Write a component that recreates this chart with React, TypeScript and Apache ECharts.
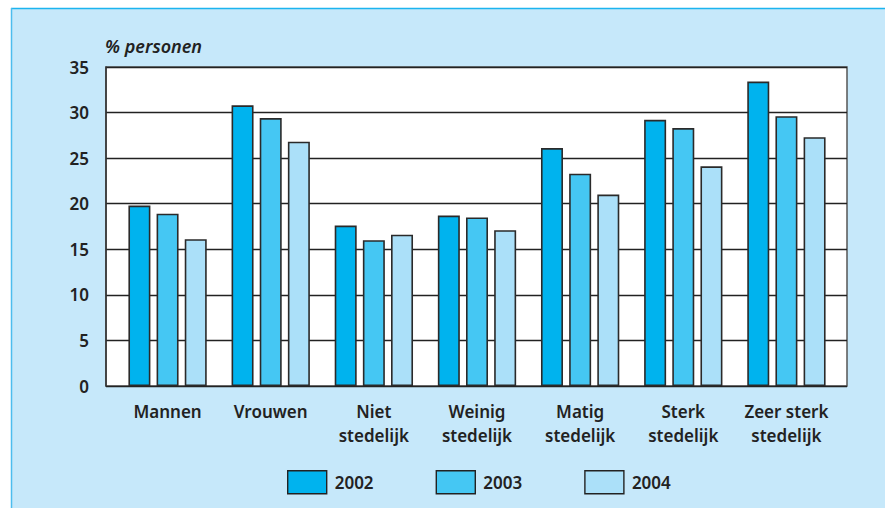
import React, { useEffect, useRef } from "react";
import * as echarts from "echarts";

const categories = [
  "Mannen",
  "Vrouwen",
  "Niet\nstedelijk",
  "Weinig\nstedelijk",
  "Matig\nstedelijk",
  "Sterk\nstedelijk",
  "Zeer sterk\nstedelijk",
];
const years = ["2002", "2003", "2004"];
const values2002 = [19.8, 30.8, 17.6, 18.7, 26.1, 29.2, 33.4];
const values2003 = [18.9, 29.4, 16.0, 18.5, 23.3, 28.3, 29.6];
const values2004 = [16.1, 26.8, 16.6, 17.1, 21.0, 24.1, 27.3];
const yTicks = { min: 0, max: 35, interval: 5 };
const yTitle = "% personen";

const colors = ["#00B3EE", "#45C7F3", "#ABE0F9"];
const FONT = "'Noto Sans', sans-serif";
const W = 600;

export default function App() {
  const ref = useRef<HTMLDivElement>(null);
  useEffect(() => {
    if (!ref.current) return;
    const chart = echarts.init(ref.current, null, { renderer: "svg" });
    const seriesData = [values2002, values2003, values2004];
    chart.setOption({
      animation: false,
      backgroundColor: "#ffffff",
      textStyle: { fontFamily: FONT },
      graphic: [
        {
          type: "rect",
          z: -10,
          shape: { x: 11, y: 8, width: 880, height: 510 },
          style: { fill: "#C6E8FA" },
          silent: true,
        },
        {
          type: "line",
          z: -9,
          shape: { x1: 11, y1: 8.5, x2: 885, y2: 8.5 },
          style: { stroke: "#1CB4EF", lineWidth: 1.5 },
          silent: true,
        },
        {
          type: "line",
          z: -9,
          shape: { x1: 11.5, y1: 8, x2: 11.5, y2: 508 },
          style: { stroke: "#4DBDEE", lineWidth: 1.5 },
          silent: true,
        },
        {
          type: "text",
          x: 105,
          y: 37,
          style: {
            text: yTitle,
            fontFamily: FONT,
            fontStyle: "italic",
            fontWeight: W,
            fontSize: 18,
            fill: "#222222",
          },
        },
      ],
      legend: {
        data: years,
        left: 287,
        top: 470,
        padding: 0,
        itemWidth: 39,
        itemHeight: 23,
        itemGap: 62,
        icon: "rect",
        itemStyle: { borderColor: "#222222", borderWidth: 1.4 },
        textStyle: { fontSize: 17, fontWeight: W, color: "#222222", fontFamily: FONT, padding: [0, 0, 0, 3] },
      },
      grid: [
        {
          left: 106,
          top: 67,
          width: 741,
          height: 319,
          show: true,
          backgroundColor: "#ffffff",
          borderColor: "#555555",
          borderWidth: 1.5,
        },
        { left: 116, top: 67, width: 722, height: 319 },
      ],
      xAxis: [
        {
          gridIndex: 0,
          type: "category",
          data: categories,
          show: false,
        },
        {
          gridIndex: 1,
          type: "category",
          data: categories,
          axisLine: { show: false },
          axisTick: { show: false },
          axisLabel: {
            margin: 13,
            fontSize: 17,
            fontWeight: W,
            lineHeight: 24,
            color: "#222222",
            fontFamily: FONT,
            interval: 0,
          },
        },
      ],
      yAxis: [
        {
          gridIndex: 0,
          type: "value",
          min: yTicks.min,
          max: yTicks.max,
          interval: yTicks.interval,
          axisLine: { show: true, lineStyle: { color: "#333333", width: 1.5 } },
          axisTick: { show: false },
          axisLabel: {
            margin: 17,
            fontSize: 17,
            fontWeight: W,
            color: "#222222",
            fontFamily: FONT,
          },
          splitLine: { show: true, lineStyle: { color: "#222222", width: 1.4 } },
        },
        {
          gridIndex: 1,
          type: "value",
          min: yTicks.min,
          max: yTicks.max,
          interval: yTicks.interval,
          show: false,
          splitLine: { show: false },
        },
      ],
      series: years.map((y, i) => ({
        name: y,
        type: "bar",
        xAxisIndex: 1,
        yAxisIndex: 1,
        data: seriesData[i],
        barWidth: 22,
        barGap: "28%",
        itemStyle: {
          color: colors[i],
          borderColor: "#2a2a2a",
          borderWidth: 1.6,
        },
      })),
    });
    return () => chart.dispose();
  }, []);
  return (
    <div
      ref={ref}
      style={{ position: "fixed", left: 0, top: 0, width: 885, height: 508 }}
    />
  );
}
